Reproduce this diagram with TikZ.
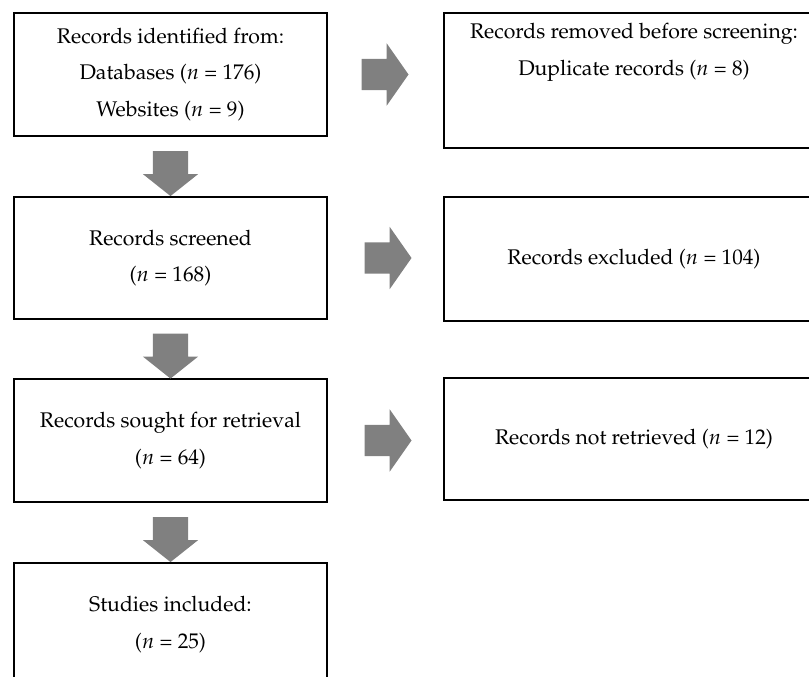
\documentclass[tikz,border=0pt]{standalone}
\usepackage[T1]{fontenc}
\usepackage{mathpazo}
\usepackage{tikz}
\usetikzlibrary{calc,shapes.arrows,positioning}
\definecolor{prgray}{HTML}{808080}

\tikzset{
  box/.style={draw=black, line width=1.5pt, minimum width=234.75pt, inner sep=0pt,
    align=center, font=\fontsize{15.9}{27.5}\selectfont},
  rbox/.style={box, minimum width=285pt},
  txt/.style={inner sep=0pt, align=center, font=\fontsize{15.9}{27.5}\selectfont},
  rarr/.style={single arrow, fill=prgray, draw=none, inner xsep=0pt, inner ysep=11.6pt,
    sloped, minimum height=35.25pt, single arrow head extend=11.6pt,
    single arrow tip angle=110},
  darr/.style={single arrow, fill=prgray, draw=none, inner xsep=0pt, inner ysep=13.1pt,
    sloped, minimum height=33.75pt, single arrow head extend=7.5pt,
    single arrow tip angle=103}
}

\begin{document}
\begin{tikzpicture}[x=0.75pt, y=-0.75pt]
  \useasboundingbox (0,0) rectangle (809,676);
  % left column
  \node[box, minimum height=92.25pt] (idf) at (170.5,74.5)
    {Records identified from:\\Databases ($n$ = 176)\\Websites ($n$ = 9)};
  \node[box, minimum height=91.5pt] (scr) at (170.5,258)
    {Records screened\\($n$ = 168)};
  \node[box, minimum height=92.25pt] (sgt) at (170.5,440.5)
    {Records sought for retrieval\\($n$ = 64)};
  \node[box, minimum height=92.25pt] (inc) at (170.5,624.5)
    {Studies included:\\($n$ = 25)};
  % right column
  \node[rbox, minimum height=101.25pt] (rem) at (634,80.5) {};
  \node[txt] (remtxt) at (634,52.5)
    {Records removed before screening:\\Duplicate records ($n$ = 8)};
  \node[rbox, minimum height=93pt] (exc) at (634,259)
    {Records excluded ($n$ = 104)};
  \node[rbox, minimum height=91.5pt] (nrt) at (634,439)
    {Records not retrieved ($n$ = 12)};
  % block arrows
  \path (idf.south) -- (scr.north) node[midway, darr] (d1) {};
  \path (scr.south) -- (sgt.north) node[midway, darr] (d2) {};
  \path (sgt.south) -- (inc.north) node[midway, darr] (d3) {};
  \path (idf.east) -- (idf.east -| rem.west) node[midway, xshift=-4.5pt, rarr] (r1) {};
  \path (scr.east) -- (scr.east -| exc.west) node[midway, xshift=-2.25pt, rarr] (r2) {};
  \path (sgt.east) -- (sgt.east -| nrt.west) node[midway, xshift=-2.25pt, rarr] (r3) {};
\end{tikzpicture}
\end{document}
